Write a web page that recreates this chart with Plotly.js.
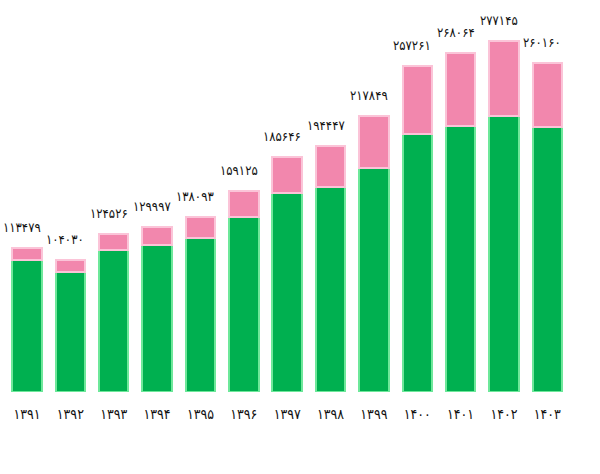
<!DOCTYPE html>
<html>
<head>
<meta charset="utf-8">
<script src="https://cdn.plot.ly/plotly-3.0.1.min.js"></script>
<style>body{margin:0;background:#fff}</style>
</head>
<body>
<div id="chart" style="width:600px;height:474px"></div>
<script>
const years = [1391, 1392, 1393, 1394, 1395, 1396, 1397, 1398, 1399, 1400, 1401, 1402, 1403];
const totals = [113479, 104030, 124526, 129997, 138093, 159125, 185646, 194447, 217849, 257261, 268064, 277145, 260160];
const greenPart = [104300, 94800, 112200, 116100, 121600, 138200, 157200, 161900, 176900, 203800, 210100, 218000, 209300];

const fa = n => n.toLocaleString('fa-IR', {useGrouping: false});
const labels = years.map(fa);
const pinkPart = totals.map((t, i) => t - greenPart[i]);

var data = [
    {
        x: labels, y: greenPart, type: 'bar',
        marker: {color: '#00b050', line: {color: '#6ee89a', width: 2}},
        hoverinfo: 'none'
    },
    {
        x: labels, y: pinkPart, type: 'bar',
        marker: {color: '#f287ad', line: {color: '#fbc4d8', width: 2}},
        hoverinfo: 'none'
    }
];

// total labels above each stack
var notes = labels.map((lab, i) => ({
    x: lab, y: totals[i], text: fa(totals[i]), showarrow: false,
    yanchor: 'bottom', yshift: 11, xshift: -5,
    font: {family: 'DejaVu Sans Condensed', size: 13, color: '#111'}
}));

var layout = {
    width: 600, height: 474,
    barmode: 'stack', bargap: 0.32,
    showlegend: false,
    margin: {l: 1, r: 31, t: 30, b: 82, autoexpand: false},
    paper_bgcolor: '#fff', plot_bgcolor: '#fff',
    xaxis: {showline: false, ticks: '', ticklabelstandoff: 12,
        tickfont: {family: 'DejaVu Sans Condensed', size: 14, color: '#111'}},
    yaxis: {range: [0, 286000], visible: false, showgrid: false, zeroline: false},
    annotations: notes
};

Plotly.newPlot('chart', data, layout, {displayModeBar: false, staticPlot: true});
</script>
</body>
</html>
